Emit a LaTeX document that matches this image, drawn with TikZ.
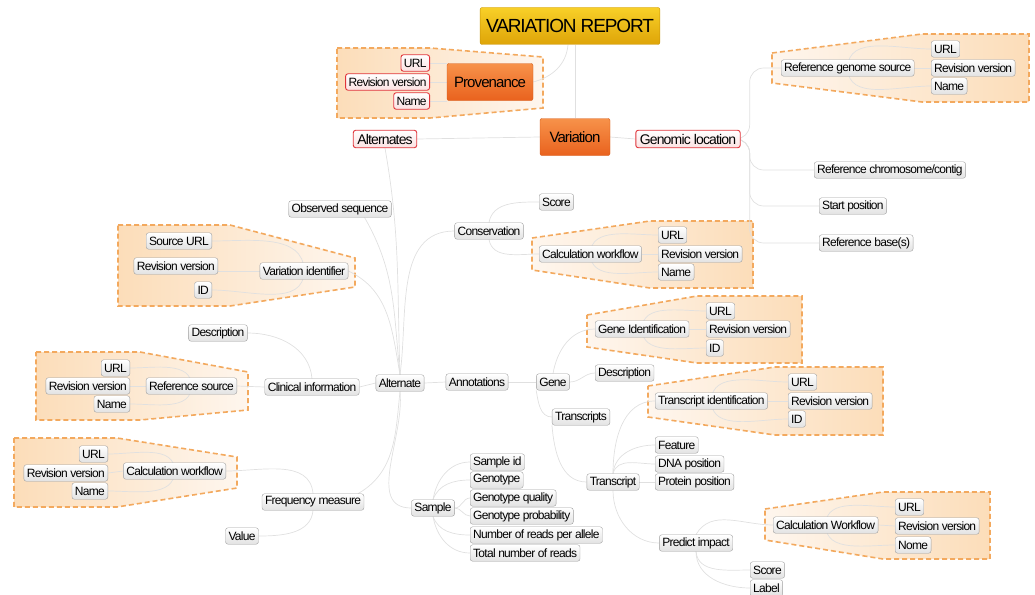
\documentclass[tikz,border=0pt]{standalone}
\usepackage{fontspec}
\setmainfont[LetterSpace=-6]{Liberation Sans}
\usetikzlibrary{backgrounds}
\definecolor{reporttop}{RGB}{248,208,40}
\definecolor{reportbot}{RGB}{222,164,8}
\definecolor{reportline}{RGB}{200,148,10}
\definecolor{topictop}{RGB}{247,146,74}
\definecolor{topicbot}{RGB}{233,98,30}
\definecolor{topicline}{RGB}{212,90,24}
\definecolor{leafline}{RGB}{160,160,160}
\definecolor{leafbot}{RGB}{226,226,226}
\definecolor{attrline}{RGB}{224,52,58}
\definecolor{attrbot}{RGB}{251,225,225}
\definecolor{regionline}{RGB}{243,169,94}
\definecolor{regionpale}{RGB}{254,246,238}
\definecolor{regiondeep}{RGB}{252,221,185}
\definecolor{connline}{RGB}{224,224,224}

\begin{document}
\begin{tikzpicture}[x=1pt,y=-1pt,
  leaf/.style={draw=leafline,rounded corners=2.5pt,top color=white,bottom color=leafbot,
    font=\fontsize{12}{13}\selectfont,inner xsep=3pt,inner ysep=0pt,minimum height=16.5pt},
  attr/.style={leaf,draw=attrline,bottom color=attrbot,line width=0.9pt},
  bigattr/.style={attr,font=\fontsize{14}{15}\selectfont,minimum height=17.5pt,inner xsep=4pt},
  topic/.style={draw=topicline,rounded corners=2pt,top color=topictop,bottom color=topicbot,
    font=\fontsize{15}{16}\selectfont,minimum height=37pt,inner xsep=6pt},
  title/.style={topic,draw=reportline,top color=reporttop,bottom color=reportbot,
    font=\fontsize{19}{20}\selectfont},
  region/.style={draw=regionline,line width=1.6pt,dash pattern=on 5pt off 3pt,line join=miter},
  regionL/.style={region,left color=regiondeep,right color=regionpale},
  regionR/.style={region,left color=regionpale,right color=regiondeep},
  conn/.style={draw=connline,line width=0.7pt}]
% 1035 x 594, y grows downwards
\useasboundingbox (0,0) rectangle (1035,594);

% top
\node[title,minimum width=178pt] (report) at (570,26) {VARIATION REPORT};
\node[topic,minimum width=86pt] (prov) at (490,82) {Provenance};
\node[topic,minimum width=70pt] (var) at (575,137) {Variation};
\node[bigattr] (alts) at (385,139) {Alternates};
\node[bigattr] (gloc) at (688,139) {Genomic location};
\node[attr,anchor=east] (purl) at (430,63) {URL};
\node[attr,anchor=east] (prev) at (430,82) {Revision version};
\node[attr,anchor=east] (pname) at (430,101) {Name};

% genomic location
\node[leaf,anchor=west] (refgen) at (781,68) {Reference genome source};
\node[leaf,anchor=west] (rgurl) at (931,49) {URL};
\node[leaf,anchor=west] (rgrev) at (931,68) {Revision version};
\node[leaf,anchor=west] (rgname) at (931,86) {Name};
\node[leaf,anchor=west] (refchr) at (814,170) {Reference chromosome/contig};
\node[leaf,anchor=west] (startpos) at (819,206) {Start position};
\node[leaf,anchor=west] (refbase) at (819,243) {Reference base(s)};

% alternate
\node[leaf] (alt) at (400,383) {Alternate};
\node[leaf] (obs) at (340,209) {Observed sequence};
\node[leaf] (varid) at (304,271) {Variation identifier};
\node[leaf,anchor=east] (vsrc) at (212,241) {Source URL};
\node[leaf,anchor=east] (vrev) at (218,266) {Revision version};
\node[leaf,anchor=east] (vid) at (212,290) {ID};
\node[leaf] (cons) at (489,231) {Conservation};
\node[leaf,anchor=west] (cscore) at (539,202) {Score};
\node[leaf,anchor=west] (ccw) at (539,254) {Calculation workflow};
\node[leaf,anchor=west] (ccurl) at (658,235) {URL};
\node[leaf,anchor=west] (ccrev) at (658,254) {Revision version};
\node[leaf,anchor=west] (ccname) at (658,272) {Name};
\node[leaf] (clin) at (312,387) {Clinical information};
\node[leaf] (cdesc) at (218,333) {Description};
\node[leaf,anchor=east] (rsrc) at (237,386) {Reference source};
\node[leaf,anchor=east] (rsurl) at (130,368) {URL};
\node[leaf,anchor=east] (rsrev) at (130,386) {Revision version};
\node[leaf,anchor=east] (rsname) at (130,404) {Name};
\node[leaf] (fm) at (313,502) {Frequency measure};
\node[leaf,anchor=east] (fcw) at (226,471) {Calculation workflow};
\node[leaf,anchor=east] (fcurl) at (108,454) {URL};
\node[leaf,anchor=east] (fcrev) at (108,473) {Revision version};
\node[leaf,anchor=east] (fcname) at (108,491) {Name};
\node[leaf] (value) at (242,536) {Value};
\node[leaf] (sample) at (433,508) {Sample};
\node[leaf,anchor=west] (sid) at (470,462) {Sample id};
\node[leaf,anchor=west] (sgt) at (470,480) {Genotype};
\node[leaf,anchor=west] (sgq) at (470,498) {Genotype quality};
\node[leaf,anchor=west] (sgp) at (470,516) {Genotype probability};
\node[leaf,anchor=west] (srpa) at (470,535) {Number of reads per allele};
\node[leaf,anchor=west] (stot) at (470,553) {Total number of reads};

% annotations
\node[leaf] (annot) at (477,382) {Annotations};
\node[leaf] (gene) at (553,382) {Gene};
\node[leaf,anchor=west] (geneid) at (595,329) {Gene Identification};
\node[leaf,anchor=west] (giurl) at (706,311) {URL};
\node[leaf,anchor=west] (girev) at (706,329) {Revision version};
\node[leaf,anchor=west] (giid) at (706,348) {ID};
\node[leaf,anchor=west] (gdesc) at (595,373) {Description};
\node[leaf] (tscripts) at (581,417) {Transcripts};
\node[leaf] (tscript) at (613,482) {Transcript};
\node[leaf,anchor=west] (tid) at (655,401) {Transcript identification};
\node[leaf,anchor=west] (tiurl) at (788,382) {URL};
\node[leaf,anchor=west] (tirev) at (788,401) {Revision version};
\node[leaf,anchor=west] (tiid) at (788,419) {ID};
\node[leaf,anchor=west] (feature) at (655,445) {Feature};
\node[leaf,anchor=west] (dnapos) at (655,464) {DNA position};
\node[leaf,anchor=west] (protpos) at (655,482) {Protein position};
\node[leaf] (predict) at (696,543) {Predict impact};
\node[leaf,anchor=west] (pcw) at (773,525) {Calculation Workflow};
\node[leaf,anchor=west] (pcurl) at (895,507) {URL};
\node[leaf,anchor=west] (pcrev) at (895,526) {Revision version};
\node[leaf,anchor=west] (pcname) at (895,545) {Nome};
\node[leaf,anchor=west] (pscore) at (750,570) {Score};
\node[leaf,anchor=west] (plabel) at (750,588) {Label};

\begin{pgfonlayer}{background}
% dashed groups
\path[regionL] (337,48) -- (430,48) -- (543,57) -- (543,108) -- (430,118) -- (337,118) -- cycle;
\path[regionR] (772,53) -- (922,34) -- (1029,34) -- (1029,102) -- (922,102) -- (772,83) -- cycle;
\path[regionL] (118,225) -- (230,225) -- (355,258) -- (355,287) -- (230,306) -- (118,306) -- cycle;
\path[regionR] (532,238) -- (650,221) -- (753,221) -- (753,288) -- (650,288) -- (532,270) -- cycle;
\path[regionL] (36,352) -- (140,352) -- (248,372) -- (248,410) -- (140,420) -- (36,420) -- cycle;
\path[regionL] (14,438) -- (117,438) -- (237,457) -- (237,488) -- (117,507) -- (14,507) -- cycle;
\path[regionR] (587,315) -- (697,296) -- (802,296) -- (802,363) -- (697,363) -- (587,347) -- cycle;
\path[regionR] (648,386) -- (775,367) -- (883,367) -- (883,435) -- (775,435) -- (648,417) -- cycle;
\path[regionR] (765,509) -- (883,492) -- (990,492) -- (990,559) -- (883,559) -- (765,540) -- cycle;

% top connectors
\draw[conn] ([xshift=-2pt]report.south) to[out=-95,in=15] (prov.east);
\draw[conn] (var.north |- report.south) -- (var.north);
\draw[conn] (var.west) -- (alts.east);
\draw[conn] (var.east) -- (gloc.west);
\draw[conn] (purl.east) -- (purl.east -| prov.west);
\draw[conn] (prev.east) -- (prov.west);
\draw[conn] (pname.east) -- (pname.east -| prov.west);

\draw[conn,rounded corners=14pt] (gloc.east) -- ++(9,0) |- (refgen.west);
\draw[conn,rounded corners=14pt] (gloc.east) -- ++(9,0) |- (refchr.west);
\draw[conn,rounded corners=14pt] (gloc.east) -- ++(9,0) |- (startpos.west);
\draw[conn,rounded corners=14pt] (gloc.east) -- ++(9,0) |- (refbase.west);
\draw[conn] (refgen.center) to[out=90,in=180] (rgurl.west);
\draw[conn] (refgen.east) -- (rgrev.west);
\draw[conn] (refgen.center) to[out=-90,in=180] (rgname.west);

% alternate hub
\draw[conn] (alts.south) to[out=-80,in=92] (alt.north);
\draw[conn] (alt.north) to[out=96,in=-60] ([xshift=-27pt]obs.south east);
\draw[conn] (alt.north) to[out=100,in=-25] (varid.east);
\draw[conn] (alt.north) to[out=82,in=180] (cons.west);
\draw[conn] (alt.west) -- (clin.east);
\draw[conn] (alt.east) -- (annot.west);
\draw[conn] (alt.south) to[out=-96,in=30] ([xshift=-6pt]fm.north east);
\draw[conn] (alt.south) to[out=-84,in=180] (sample.west);

\draw[conn] (varid.center) to[out=90,in=0] (vsrc.east);
\draw[conn] (varid.west) -- (varid.west -| vrev.east);
\draw[conn] (varid.center) to[out=-90,in=0] (vid.east);

\draw[conn] (cons.north) to[out=80,in=180] (cscore.west);
\draw[conn] (cons.south) to[out=-80,in=180] (ccw.west);
\draw[conn] (ccw.center) to[out=90,in=180] (ccurl.west);
\draw[conn] (ccw.east) -- (ccrev.west);
\draw[conn] (ccw.center) to[out=-90,in=180] (ccname.west);

\draw[conn] (clin.north) to[out=95,in=0] (cdesc.east);
\draw[conn] (clin.west) -- (rsrc.east);
\draw[conn] (rsrc.center) to[out=90,in=0] (rsurl.east);
\draw[conn] (rsrc.west) -- (rsrev.east);
\draw[conn] (rsrc.center) to[out=-90,in=0] (rsname.east);

\draw[conn] (fm.north) to[out=95,in=0] (fcw.east);
\draw[conn] (fm.south) to[out=-95,in=0] (value.east);
\draw[conn] (fcw.center) to[out=90,in=0] (fcurl.east);
\draw[conn] (fcw.west) -- (fcrev.east);
\draw[conn] (fcw.center) to[out=-90,in=0] (fcname.east);

\draw[conn] (sample.north) to[out=80,in=180] (sid.west);
\draw[conn] (sample.north) to[out=70,in=180] (sgt.west);
\draw[conn] (sample.east) to[out=0,in=180] (sgq.west);
\draw[conn] (sample.east) to[out=0,in=180] (sgp.west);
\draw[conn] (sample.south) to[out=-70,in=180] (srpa.west);
\draw[conn] (sample.south) to[out=-80,in=180] (stot.west);

% annotations
\draw[conn] (annot.east) -- (gene.west);
\draw[conn] (gene.north) to[out=80,in=180] (geneid.west);
\draw[conn] (gene.east) to[out=0,in=180] (gdesc.west);
\draw[conn] (gene.south west) to[out=-80,in=180] (tscripts.west);
\draw[conn] (tscripts.south west) to[out=-85,in=180] (tscript.west);
\draw[conn] (geneid.center) to[out=90,in=180] (giurl.west);
\draw[conn] (geneid.east) -- (girev.west);
\draw[conn] (geneid.center) to[out=-90,in=180] (giid.west);

\draw[conn] (tscript.north) to[out=90,in=180] (tid.west);
\draw[conn] (tscript.north) to[out=85,in=180] (feature.west);
\draw[conn] (tscript.north) to[out=75,in=180] (dnapos.west);
\draw[conn] (tscript.east) -- (protpos.west);
\draw[conn] (tscript.south) to[out=-90,in=180] (predict.west);
\draw[conn] (tid.center) to[out=90,in=180] (tiurl.west);
\draw[conn] (tid.east) -- (tirev.west);
\draw[conn] (tid.center) to[out=-90,in=180] (tiid.west);

\draw[conn] (predict.north) to[out=60,in=180] (pcw.west);
\draw[conn] (predict.south) to[out=-85,in=180] (pscore.west);
\draw[conn] (predict.south) to[out=-90,in=180] (plabel.west);
\draw[conn] (pcw.center) to[out=90,in=180] (pcurl.west);
\draw[conn] (pcw.east) -- (pcrev.west);
\draw[conn] (pcw.center) to[out=-90,in=180] (pcname.west);
\end{pgfonlayer}
\end{tikzpicture}
\end{document}
